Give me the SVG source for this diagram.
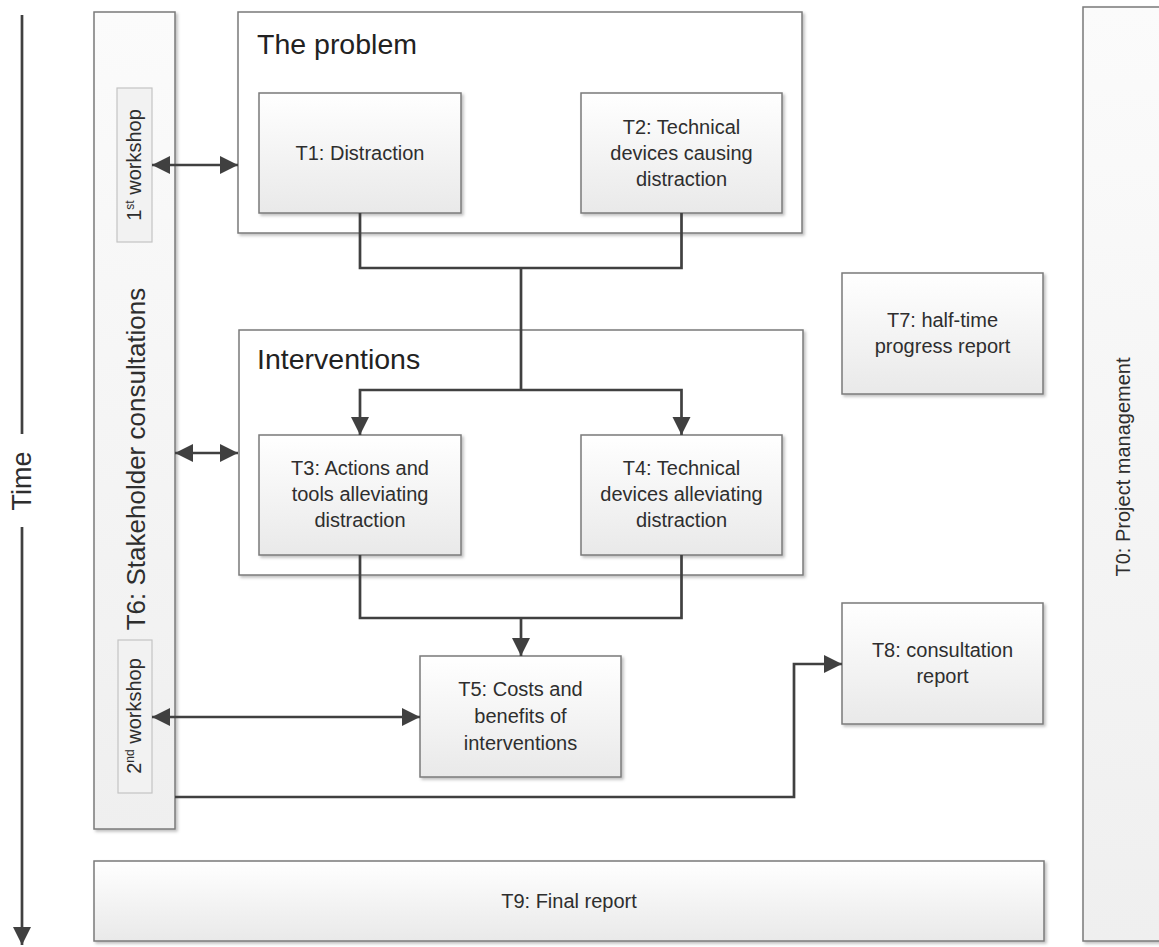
<svg xmlns="http://www.w3.org/2000/svg" width="1159" height="947" viewBox="0 0 1159 947">
<defs>
  <linearGradient id="gBox" x1="0" y1="0" x2="0" y2="1">
    <stop offset="0" stop-color="#ffffff"/>
    <stop offset="1" stop-color="#e9e9e9"/>
  </linearGradient>
  <linearGradient id="gPanel" x1="0" y1="0" x2="0" y2="1">
    <stop offset="0" stop-color="#fbfbfb"/>
    <stop offset="1" stop-color="#efefef"/>
  </linearGradient>
  <filter id="sh" x="-5%" y="-5%" width="115%" height="115%">
    <feDropShadow dx="2" dy="2" stdDeviation="1.5" flood-color="#000" flood-opacity="0.25"/>
  </filter>
  <marker id="ah" markerUnits="userSpaceOnUse" markerWidth="20" markerHeight="20" refX="18" refY="9" orient="auto-start-reverse">
    <path d="M0,0 L18,9 L0,18 z" fill="#404040"/>
  </marker>
  <style>
    .box { fill: url(#gBox); stroke: #7a7a7a; stroke-width: 1.5; filter: url(#sh); }
    .cont { fill: #ffffff; stroke: #7a7a7a; stroke-width: 1.5; filter: url(#sh); }
    .panel { fill: url(#gPanel); stroke: #7a7a7a; stroke-width: 1.5; filter: url(#sh); }
    .ws { fill: #f2f2f2; stroke: #c4c4c4; stroke-width: 1.2; }
    .t { font-family: "Liberation Sans", Arial, sans-serif; font-size: 20px; fill: #2e2e2e; text-anchor: middle; }
    .title { font-family: "Liberation Sans", Arial, sans-serif; font-size: 28.5px; fill: #222222; }
    .c { fill: none; stroke: #404040; stroke-width: 2.7; }
  </style>
</defs>

<g id="time">
  <path class="c" d="M22 15 V434"/>
  <path class="c" d="M22 527 V945" marker-end="url(#ah)"/>
  <text class="t" style="font-size:27px" transform="translate(31,481) rotate(-90)">Time</text>
</g>

<g id="T6">
  <rect class="panel" x="94" y="12" width="81" height="817"/>
  <text class="t" style="font-size:26px" transform="translate(145,459) rotate(-90)">T6: Stakeholder consultations</text>
</g>
<g id="ws1">
  <rect class="ws" x="117" y="88" width="35" height="154"/>
  <text class="t" transform="translate(141,165) rotate(-90)">1<tspan font-size="12" baseline-shift="super">st</tspan> workshop</text>
</g>
<g id="ws2">
  <rect class="ws" x="118" y="640" width="34" height="153"/>
  <text class="t" transform="translate(141,716) rotate(-90)">2<tspan font-size="12" baseline-shift="super">nd</tspan> workshop</text>
</g>

<g id="problem">
  <rect class="cont" x="238" y="12" width="564" height="221"/>
  <text class="title" x="257" y="54">The problem</text>
</g>
<g id="T1">
  <rect class="box" x="259" y="93" width="202" height="120"/>
  <text class="t" x="360" y="160">T1: Distraction</text>
</g>
<g id="T2">
  <rect class="box" x="581" y="93" width="201" height="120"/>
  <text class="t" x="681.5" y="134">T2: Technical</text>
  <text class="t" x="681.5" y="160">devices causing</text>
  <text class="t" x="681.5" y="186">distraction</text>
</g>

<g id="interventions">
  <rect class="cont" x="239" y="330" width="564" height="245"/>
  <text class="title" x="257" y="369">Interventions</text>
</g>
<g id="T3">
  <rect class="box" x="259" y="435" width="202" height="120"/>
  <text class="t" x="360" y="475">T3: Actions and</text>
  <text class="t" x="360" y="501">tools alleviating</text>
  <text class="t" x="360" y="527">distraction</text>
</g>
<g id="T4">
  <rect class="box" x="581" y="435" width="201" height="120"/>
  <text class="t" x="681.5" y="475">T4: Technical</text>
  <text class="t" x="681.5" y="501">devices alleviating</text>
  <text class="t" x="681.5" y="527">distraction</text>
</g>

<g id="T5">
  <rect class="box" x="420" y="656" width="201" height="121"/>
  <text class="t" x="520.5" y="696">T5: Costs and</text>
  <text class="t" x="520.5" y="723">benefits of</text>
  <text class="t" x="520.5" y="750">interventions</text>
</g>

<g id="T7">
  <rect class="box" x="842" y="273" width="201" height="121"/>
  <text class="t" x="942.5" y="327">T7: half-time</text>
  <text class="t" x="942.5" y="353">progress report</text>
</g>
<g id="T8">
  <rect class="box" x="842" y="603" width="201" height="121"/>
  <text class="t" x="942.5" y="657">T8: consultation</text>
  <text class="t" x="942.5" y="683">report</text>
</g>

<g id="T9">
  <rect class="box" x="94" y="861" width="950" height="80"/>
  <text class="t" x="569" y="908">T9: Final report</text>
</g>

<g id="T0">
  <rect class="panel" x="1083" y="7" width="90" height="934"/>
  <text class="t" transform="translate(1130,467) rotate(-90)">T0: Project management</text>
</g>

<g id="connectors">
  <path class="c" d="M152 165 H238" marker-start="url(#ah)" marker-end="url(#ah)"/>
  <path class="c" d="M175 453 H238" marker-start="url(#ah)" marker-end="url(#ah)"/>
  <path class="c" d="M152 717 H420" marker-start="url(#ah)" marker-end="url(#ah)"/>
  <path class="c" d="M360 213 V268 H681.5 V213"/>
  <path class="c" d="M521 268 V390"/>
  <path class="c" d="M521 390 H360 V435" marker-end="url(#ah)"/>
  <path class="c" d="M521 390 H681.5 V435" marker-end="url(#ah)"/>
  <path class="c" d="M360 555 V618 H681.5 V555"/>
  <path class="c" d="M521 618 V656" marker-end="url(#ah)"/>
  <path class="c" d="M175 797 H794 V664 H842" marker-end="url(#ah)"/>
</g>
</svg>
